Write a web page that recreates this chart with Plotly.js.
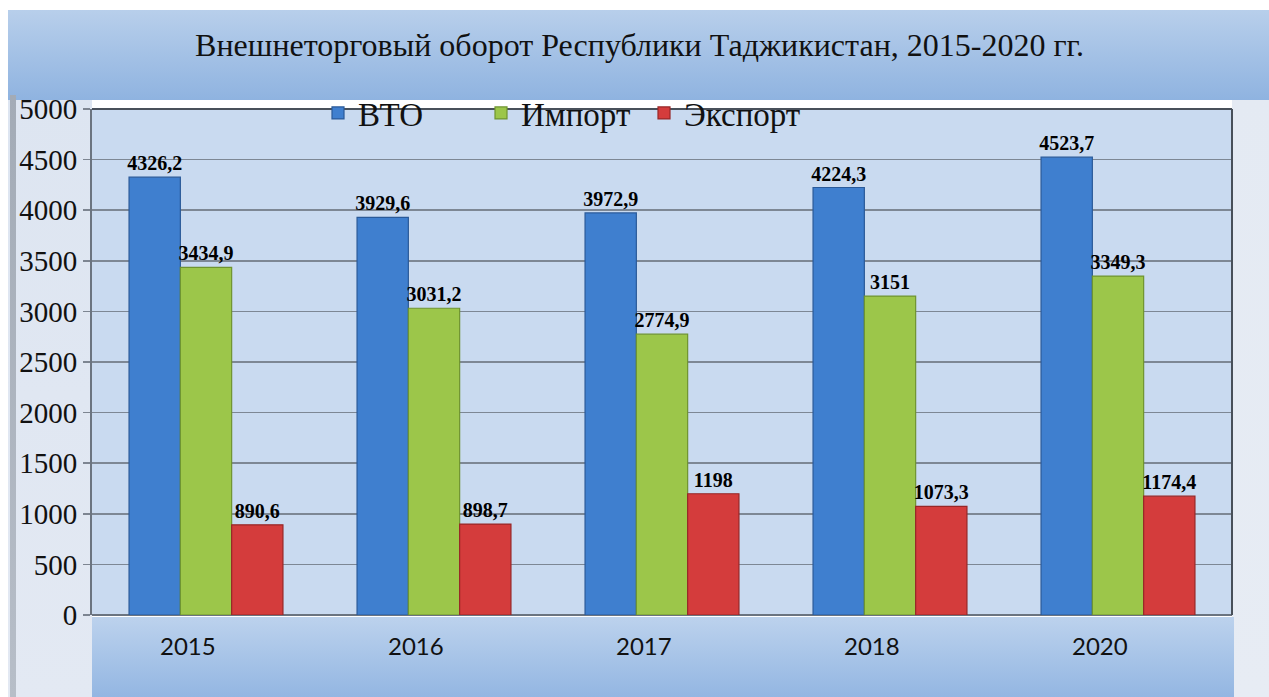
<!DOCTYPE html>
<html>
<head>
<meta charset="utf-8">
<script src="https://cdn.plot.ly/plotly-3.0.1.min.js"></script>
<style>html,body{margin:0;padding:0;background:#fff;}#chart{width:1269px;height:697px;}</style>
</head>
<body>
<div id="chart"></div>
<script>
// ---- data ----
const years = ['2015', '2016', '2017', '2018', '2020'];
const vto = [4326.2, 3929.6, 3972.9, 4224.3, 4523.7];
const importVals = [3434.9, 3031.2, 2774.9, 3151, 3349.3];
const exportVals = [890.6, 898.7, 1198, 1073.3, 1174.4];
const seriesNames = ['ВТО', 'Импорт', 'Экспорт'];
const yTicks = [0, 500, 1000, 1500, 2000, 2500, 3000, 3500, 4000, 4500, 5000];
const titleText = 'Внешнеторговый оборот Республики Таджикистан, 2015-2020 гг.';

// ---- geometry helpers (page px -> paper coords) ----
const W = 1269, H = 697;
const L = 92, R = 1232, T = 109, B = 615;
const px = x => (x - L) / (R - L);
const py = y => (B - y) / (B - T);
const SERIF = '"Liberation Serif", "Times New Roman", serif';

function grad(c1, c2) {
  const svg = "<svg xmlns='http://www.w3.org/2000/svg' width='100' height='100' preserveAspectRatio='none'>" +
    "<defs><linearGradient id='g' x1='0' y1='0' x2='0' y2='1'><stop offset='0' stop-color='" + c1 + "'/>" +
    "<stop offset='1' stop-color='" + c2 + "'/></linearGradient></defs>" +
    "<rect width='100' height='100' fill='url(#g)'/></svg>";
  return 'data:image/svg+xml;charset=utf-8,' + encodeURIComponent(svg);
}
function img(src, x0, y0, x1, y1) {
  return {source: src, xref: 'paper', yref: 'paper', x: px(x0), y: py(y0),
    sizex: px(x1) - px(x0), sizey: py(y0) - py(y1), xanchor: 'left', yanchor: 'top',
    sizing: 'stretch', layer: 'below'};
}

const fmt = v => String(v).replace('.', ',');
const labelFont = {family: SERIF, size: 20, color: '#000', weight: 'bold'};

function mk(name, vals, color, edge) {
  return {
    type: 'bar', name: name, x: years, y: vals,
    text: vals.map(fmt),
    textposition: 'outside', constraintext: 'none', textangle: 0,
    textfont: labelFont, cliponaxis: false,
    marker: {color: color, line: {color: edge, width: 1.2}},
    hoverinfo: 'skip'
  };
}

const data = [
  mk(seriesNames[0], vto, '#3f7fcf', '#2a5a99'),
  mk(seriesNames[1], importVals, '#9cc64a', '#6f9430'),
  mk(seriesNames[2], exportVals, '#d43c3c', '#982727')
];

// category labels drawn in the lower band, slightly left of group centre as in the original
const catLabels = years.map((y, i) => ({
  x: i, y: 0, xref: 'x', yref: 'y', text: y, showarrow: false,
  yanchor: 'middle', xanchor: 'center', yshift: -30, xshift: -18,
  font: {family: 'Lato, "Noto Sans", sans-serif', size: 24, color: '#111'}
}));

const layout = {
  width: W, height: H,
  margin: {l: L, r: W - R, t: T, b: H - B, pad: 0},
  paper_bgcolor: '#ffffff',
  plot_bgcolor: '#c9daf0',
  barmode: 'group', bargap: 0.325, bargroupgap: 0,
  font: {family: SERIF},
  title: {text: titleText, font: {family: SERIF, size: 32, color: '#111'},
    x: 0.504, xanchor: 'center', y: 1 - 45 / H, yanchor: 'middle', xref: 'container', yref: 'container'},
  showlegend: true,
  legend: {orientation: 'h', x: px(318), xanchor: 'left', y: py(113), yanchor: 'middle',
    bgcolor: 'rgba(0,0,0,0)', font: {family: SERIF, size: 33, color: '#111'},
    itemwidth: 30, tracegroupgap: 0, entrywidth: 118},
  xaxis: {
    type: 'category', categoryorder: 'array', categoryarray: years,
    range: [-0.5, years.length - 0.5], autorange: false, showticklabels: false,
    ticks: '', showline: false, showgrid: false, fixedrange: true
  },
  yaxis: {
    range: [0, 5000], tickvals: yTicks, ticktext: yTicks.map(String),
    tickfont: {family: SERIF, size: 29, color: '#111'},
    ticks: 'outside', ticklen: 7, tickcolor: '#7d8591', tickwidth: 1.5, ticklabelstandoff: 0,
    showgrid: true, gridcolor: '#7d8794', gridwidth: 1.5,
    showline: true, linecolor: '#6b7480', linewidth: 2, mirror: false,
    zeroline: true, zerolinecolor: '#6b7480', zerolinewidth: 2, fixedrange: true
  },
  annotations: catLabels,
  images: [
    img(grad('#dde5f1', '#e3e9f3'), 8, 95, 92, 697),
    img(grad('#e4eaf3', '#e7ecf4'), 1232, 95, 1269, 697),
    img(grad('#b8cfeb', '#8fb3e0'), 8, 10, 1269, 100),
    img(grad('#bcd2ed', '#93b6e2'), 92, 617, 1234, 697),
    img(grad('#a3abb6', '#b7bec8'), 10, 95, 16, 697)
  ],
  shapes: [
    {type: 'line', xref: 'paper', yref: 'paper', x0: 0, x1: 1, y0: 1, y1: 1, line: {color: '#48505a', width: 2}},
    {type: 'line', xref: 'paper', yref: 'paper', x0: 1, x1: 1, y0: 0, y1: 1, line: {color: '#48505a', width: 2}}
  ]
};

Plotly.newPlot('chart', data, layout, {displayModeBar: false, staticPlot: true});
</script>
</body>
</html>
